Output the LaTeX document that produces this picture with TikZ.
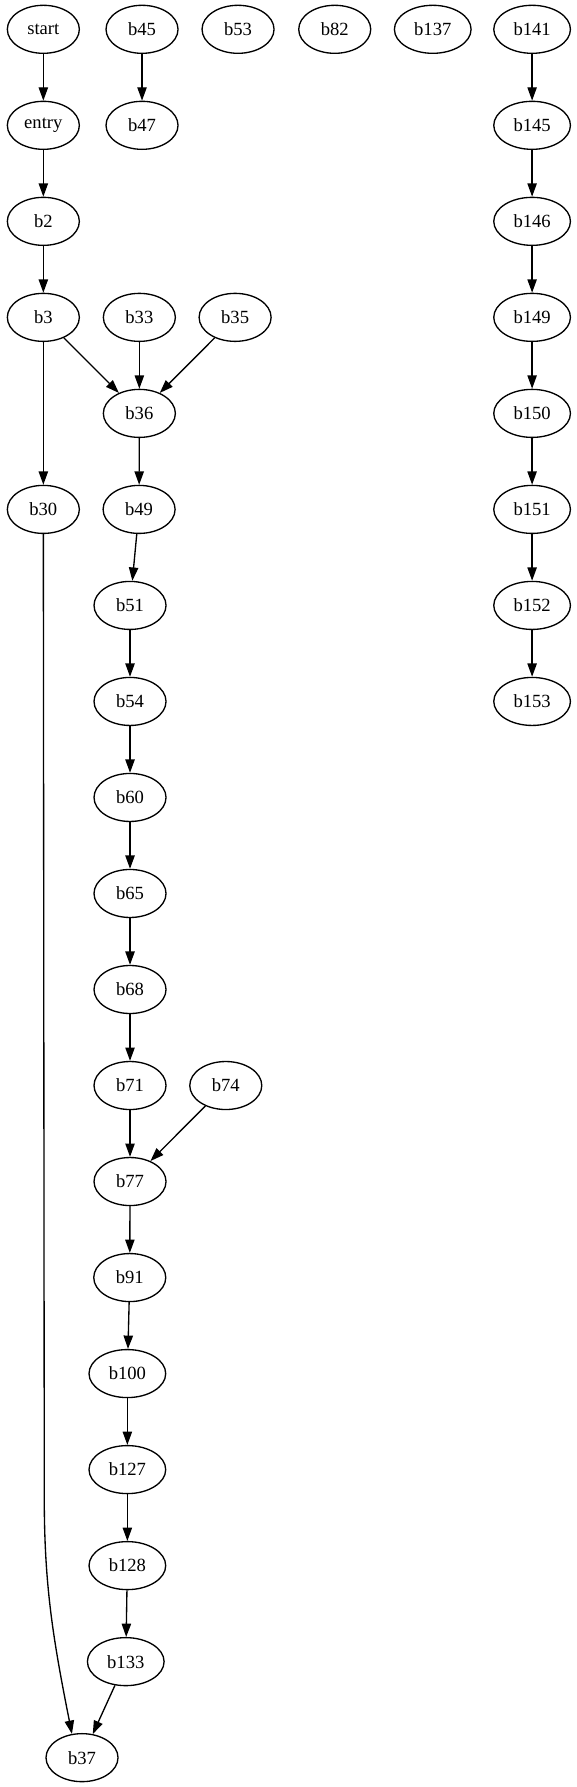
\documentclass[tikz,border=0pt]{standalone}
\usepackage{fontspec}
\setmainfont{Liberation Serif}
\usetikzlibrary{shapes.geometric,arrows.meta}
\tikzset{
  nd/.style={draw, ellipse, line width=1bp, minimum width=54bp, minimum height=36bp, inner sep=0pt, font=\fontsize{14}{16}\selectfont},
  ndw/.style={nd, minimum width=57.5bp},
  edge/.style={line width=1bp, -{Triangle[length=10bp,width=7bp]}}
}
\begin{document}
\begin{tikzpicture}[x=1bp,y=1bp]
\useasboundingbox (0,0) rectangle (432,1340);
% rank 0
\node[nd] (start) at (32.5,1318) {start};
\node[nd] (b45) at (106.5,1318) {b45};
\node[nd] (b53) at (178.5,1318) {b53};
\node[nd] (b82) at (251,1318) {b82};
\node[ndw] (b137) at (324.5,1318) {b137};
\node[ndw] (b141) at (399,1318) {b141};
% rank 1
\node[nd] (entry) at (32.5,1246) {entry};
\node[nd] (b47) at (106.5,1246) {b47};
\node[ndw] (b145) at (399,1246) {b145};
% rank 2
\node[nd] (b2) at (32.5,1174) {b2};
\node[ndw] (b146) at (399,1174) {b146};
% rank 3
\node[nd] (b3) at (32.5,1102) {b3};
\node[nd] (b33) at (104.5,1102) {b33};
\node[nd] (b35) at (176.3,1102) {b35};
\node[ndw] (b149) at (399,1102) {b149};
% rank 4
\node[nd] (b36) at (104.5,1030) {b36};
\node[ndw] (b150) at (399,1030) {b150};
% rank 5
\node[nd] (b30) at (32.5,958) {b30};
\node[nd] (b49) at (104.3,958) {b49};
\node[ndw] (b151) at (399,958) {b151};
% rank 6
\node[nd] (b51) at (97.5,886) {b51};
\node[ndw] (b152) at (399,886) {b152};
% rank 7
\node[nd] (b54) at (97.5,814) {b54};
\node[ndw] (b153) at (399,814) {b153};
% ranks 8-18
\node[nd] (b60) at (97.5,742) {b60};
\node[nd] (b65) at (97.5,670) {b65};
\node[nd] (b68) at (97.5,598) {b68};
\node[nd] (b71) at (97.5,526) {b71};
\node[nd] (b74) at (169.3,526) {b74};
\node[nd] (b77) at (97.5,454) {b77};
\node[nd] (b91) at (97.3,382) {b91};
\node[ndw] (b100) at (95.5,310) {b100};
\node[ndw] (b127) at (95.5,238) {b127};
\node[ndw] (b128) at (95.5,166) {b128};
\node[ndw] (b133) at (94.3,94) {b133};
\node[nd] (b37) at (61.5,22) {b37};
% edges
\draw[edge] (start) -- (entry);
\draw[edge] (entry) -- (b2);
\draw[edge] (b2) -- (b3);
\draw[edge] (b3) -- (b36);
\draw[edge] (b3) -- (b30);
\draw[edge] (b33) -- (b36);
\draw[edge] (b35) -- (b36);
\draw[edge] (b36) -- (b49);
\draw[edge] (b49) -- (b51);
\draw[edge] (b51) -- (b54);
\draw[edge] (b54) -- (b60);
\draw[edge] (b60) -- (b65);
\draw[edge] (b65) -- (b68);
\draw[edge] (b68) -- (b71);
\draw[edge] (b71) -- (b77);
\draw[edge] (b74) -- (b77);
\draw[edge] (b77) -- (b91);
\draw[edge] (b91) -- (b100);
\draw[edge] (b100) -- (b127);
\draw[edge] (b127) -- (b128);
\draw[edge] (b128) -- (b133);
\draw[edge] (b133) -- (b37);
\coordinate (bend) at (33.2,215);
\draw[edge] (b30.south) -- (bend) .. controls (33.3,150) and (40,110) .. (b37.113);
\draw[edge] (b45) -- (b47);
\draw[edge] (b141) -- (b145);
\draw[edge] (b145) -- (b146);
\draw[edge] (b146) -- (b149);
\draw[edge] (b149) -- (b150);
\draw[edge] (b150) -- (b151);
\draw[edge] (b151) -- (b152);
\draw[edge] (b152) -- (b153);
\end{tikzpicture}
\end{document}
